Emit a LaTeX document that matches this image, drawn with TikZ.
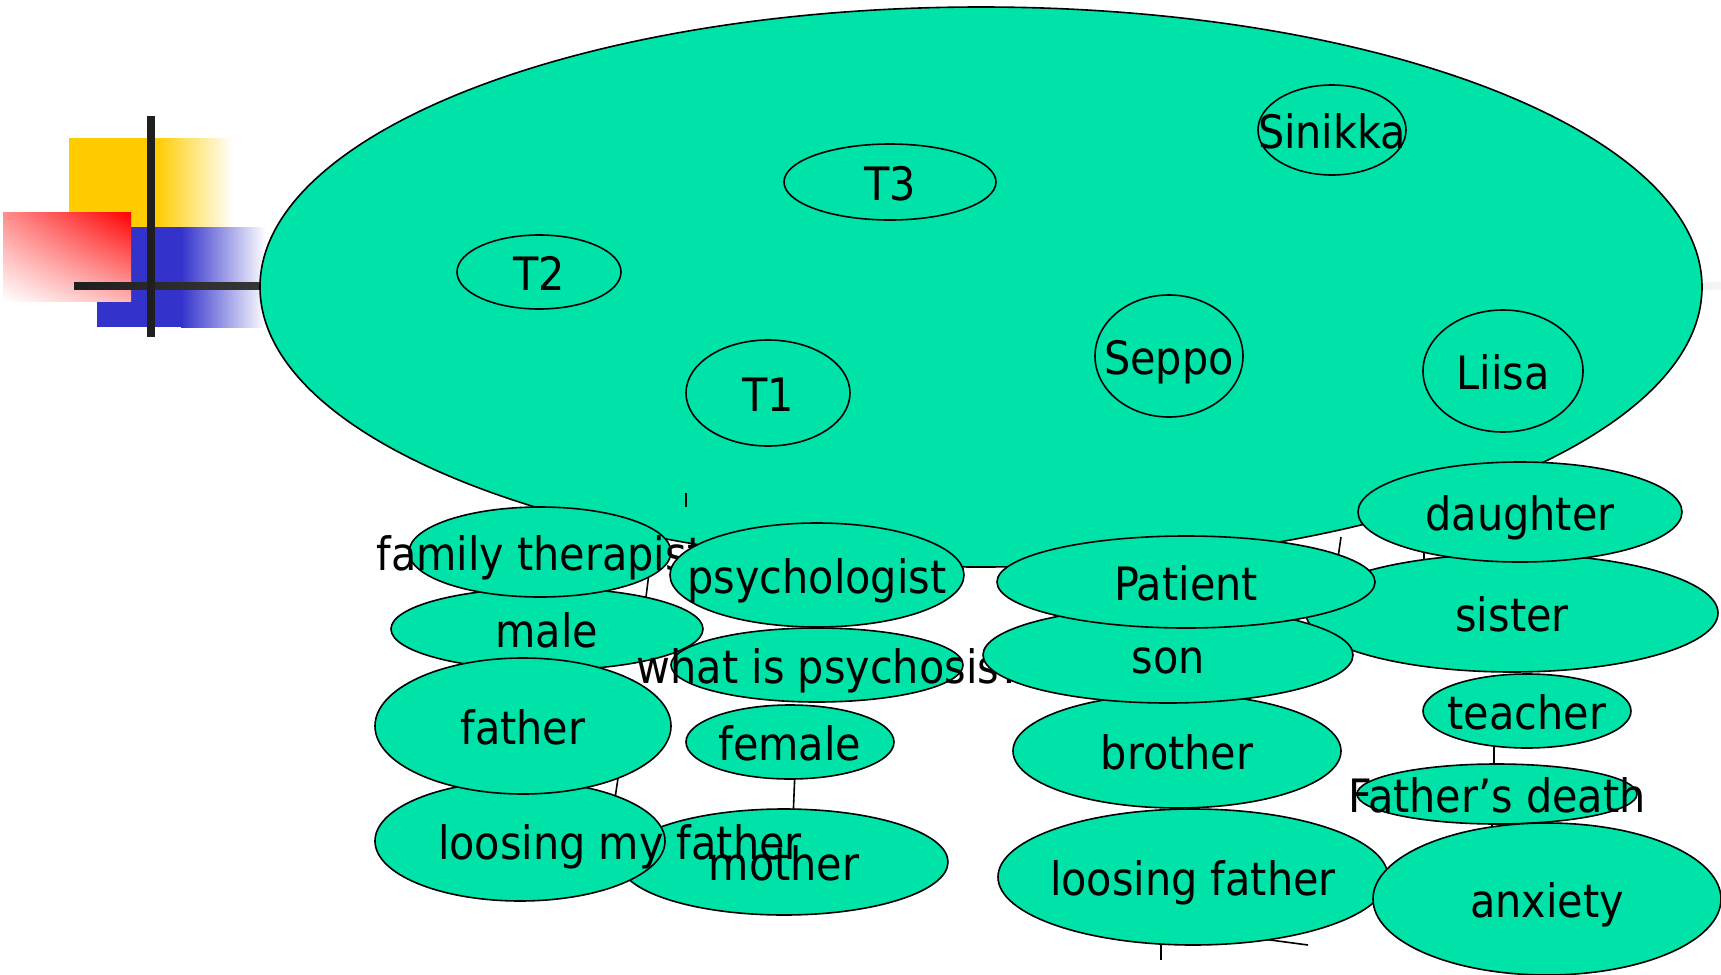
\documentclass[tikz,border=0pt]{standalone}
\usepackage{fontspec}
\setmainfont{DejaVu Sans Condensed}
\usepackage{xcolor}
\usetikzlibrary{shadings,shapes.geometric}
\definecolor{bubblegreen}{HTML}{00E3A8}
\definecolor{deckyellow}{HTML}{FFCC00}
\definecolor{deckblue}{HTML}{3333CC}

\begin{document}
\begin{tikzpicture}[
    x=0.5pt, y=-0.5pt,
    bubble/.style 2 args={ellipse, draw, line width=0.8pt, fill=bubblegreen,
      inner sep=0pt, minimum width=#1pt, minimum height=#2pt},
    word/.style={font=\fontsize{23}{27}\selectfont, inner sep=0pt,
      text height=18pt, text depth=0pt},
    link/.style={line width=0.8pt},
  ]
  \useasboundingbox (0,0) rectangle (1721,975);
  % corner decoration
  \fill[deckyellow] (69,138) rectangle (157,227);
  \shade[left color=deckyellow, right color=white] (156,138) rectangle (233,227);
  \fill[deckblue] (97,227) rectangle (182,327);
  \shade[left color=deckblue, right color=white] (181,227) rectangle (266,327);
  \shade[upper left=red!45, upper right=red, lower left=white, lower right=red!30]
    (3,212) rectangle (131,301);
  \shade[left color=black!88, right color=black!4] (74,282) rectangle (1721,289);
  \fill[black!88] (147,116) rectangle (155,337);

  % the meeting
  \node[bubble={721}{280}] (meeting) at (981,287) {};
  \node[bubble={106}{38}] (T3) at (890,182) {};
  \node[word] (T3-txt) at (T3) {T3};
  \node[bubble={74}{45}] (sinikka) at (1332,130) {};
  \node[word] (sinikka-txt) at (sinikka) {Sinikka};
  \node[bubble={82}{37}] (T2) at (539,272) {};
  \node[word] (T2-txt) at (T2) {T2};
  \node[bubble={82}{53}] (T1) at (768,393) {};
  \node[word] (T1-txt) at (T1) {T1};
  \node[bubble={74}{61}] (seppo) at (1169,356) {};
  \node[word] (seppo-txt) at (seppo) {Seppo};
  \node[bubble={80}{61}] (liisa) at (1503,371) {};
  \node[word] (liisa-txt) at (liisa) {Liisa};

  % links
  \coordinate (k1a) at (686,493);   \coordinate (k1b) at (686,507);
  \coordinate (k2a) at (650,565);   \coordinate (k2b) at (645,605);
  \coordinate (k3a) at (620,765);   \coordinate (k3b) at (614,805);
  \coordinate (k4a) at (795,770);   \coordinate (k4b) at (793,820);
  \coordinate (k5a) at (1341,537);  \coordinate (k5b) at (1337,565);
  \coordinate (k6a) at (1424,545);  \coordinate (k6b) at (1424,570);
  \coordinate (k7a) at (1494,740);  \coordinate (k7b) at (1494,775);
  \coordinate (k8a) at (1492,815);  \coordinate (k8b) at (1492,835);
  \coordinate (k9a) at (1161,935);  \coordinate (k9b) at (1161,960);
  \coordinate (k10a) at (1240,936); \coordinate (k10b) at (1308,945);
  \foreach \k in {1,...,10}
    \draw[link] (k\k a) -- (k\k b);

  % therapists' roles
  \node[bubble={164}{53}] (mother) at (784,862) {};
  \node[word] (mother-txt) at (mother) {mother};
  \node[bubble={156}{41}] (male) at (547,629) {};
  \node[word] (male-txt) at (male) {male};
  \node[bubble={145}{60}] (lmf) at (520,841) {};
  \node[word] (lmf-txt) at (620,841) {loosing my father};
  \node[bubble={148}{68}] (father) at (523,726) {};
  \node[word] (father-txt) at (father) {father};
  \node[bubble={131}{45}] (famth) at (540,552) {};
  \node[word] (famth-txt) at (famth) {family therapist};
  \node[bubble={147}{52}] (psych) at (817,575) {};
  \node[word] (psych-txt) at (psych) {psychologist};
  \node[bubble={146}{37}] (what) at (817,665) {};
  \node[word] (what-txt) at (829,665) {what is psychosis?};
  \node[bubble={104}{37}] (female) at (790,742) {};
  \node[word] (female-txt) at (female) {female};

  % family roles
  \node[bubble={206}{59}] (sister) at (1512,613) {};
  \node[word] (sister-txt) at (sister) {sister};
  \node[bubble={162}{50}] (daughter) at (1520,512) {};
  \node[word] (daughter-txt) at (daughter) {daughter};
  \node[bubble={164}{57}] (brother) at (1177,751) {};
  \node[word] (brother-txt) at (brother) {brother};
  \node[bubble={185}{48}] (son) at (1168,655) {};
  \node[word] (son-txt) at (son) {son};
  \node[bubble={189}{46}] (patient) at (1186,582) {};
  \node[word] (patient-txt) at (patient) {Patient};
  \node[bubble={195}{68}] (lf) at (1193,877) {};
  \node[word] (lf-txt) at (lf) {loosing father};
  \node[bubble={104}{37}] (teacher) at (1527,711) {};
  \node[word] (teacher-txt) at (teacher) {teacher};
  \node[bubble={140}{30}] (fdeath) at (1497,794) {};
  \node[word] (fdeath-txt) at (fdeath) {Father’s death};
  \node[bubble={174}{76}] (anxiety) at (1547,899) {};
  \node[word] (anxiety-txt) at (anxiety) {anxiety};
\end{tikzpicture}
\end{document}
